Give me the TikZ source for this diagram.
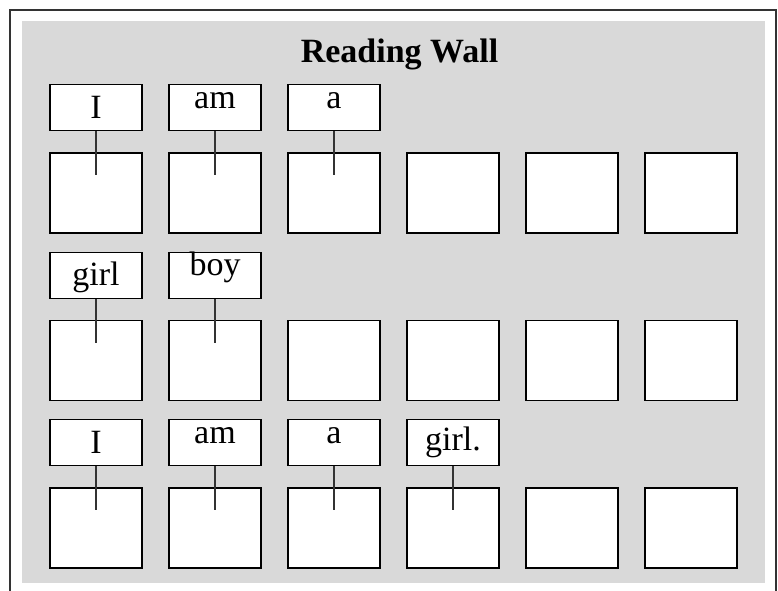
\documentclass[tikz,border=0pt]{standalone}
\usepackage{fontspec}
\setmainfont{Liberation Serif}
\usepackage{tikz}
\usetikzlibrary{positioning}
\definecolor{wallgray}{RGB}{217,217,217}
\definecolor{edgegray}{RGB}{51,51,51}
\tikzset{
  tile/.style={draw=black, line width=1.2pt, fill=white, inner sep=0pt,
    minimum width=92pt, minimum height=80pt},
  word/.style={draw=black, line width=1.2pt, fill=white, inner sep=0pt,
    minimum width=92pt, minimum height=46pt, font=\fontsize{34}{40}\selectfont},
  pin/.style={draw=edgegray, line width=1.5pt},
  heading/.style={font=\fontsize{34}{40}\selectfont\bfseries, anchor=base}
}

\begin{document}
\begin{tikzpicture}[x=1pt, y=1pt]
    \useasboundingbox (0,0) rectangle (778,590);
    \draw[edgegray, line width=1.5pt] (10,-5) -- (10,580) -- (776,580) -- (776,-5);
    \fill[wallgray] (22,7) rectangle (765,569);
    \node[heading] (title) at (399.5,527.3) {Reading Wall};
    % empty tiles
    \foreach \r/\y in {1/397, 2/229.5, 3/62}{
      \foreach \c in {1,...,6}{
        \node[tile] (s\r\c) at ({96+119*(\c-1)},\y) {};
      }
    }
    % word cards pinned onto the tiles
    \foreach \r/\c/\w/\h/\d in {1/1/I/26pt/4pt, 1/2/am/16pt/14pt, 1/3/a/16pt/14pt,
        2/1/girl/25pt/5pt, 2/2/boy/15.5pt/14.5pt,
        3/1/I/26pt/4pt, 3/2/am/16pt/14pt, 3/3/a/16pt/14pt, 3/4/girl./23pt/7pt}{
      \node[word, text height=\h, text depth=\d, above=21pt of s\r\c] (w\r\c) {\w};
      \draw[pin] (w\r\c.south) -- ([yshift=-23pt]s\r\c.north);
    }
  \end{tikzpicture}
\end{document}
